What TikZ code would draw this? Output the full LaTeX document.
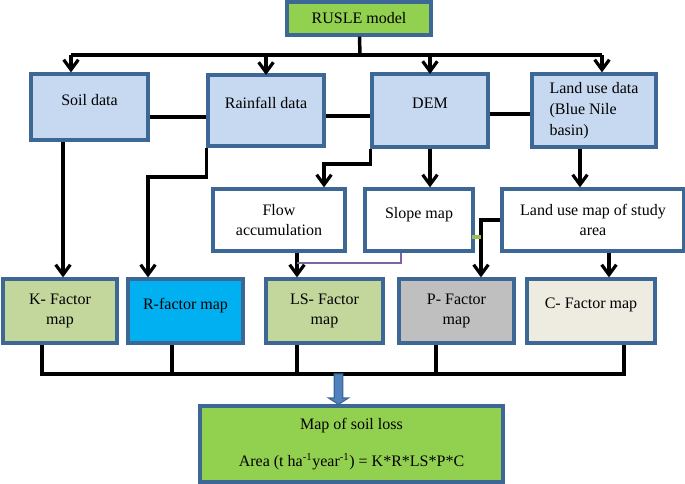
\documentclass[tikz,border=0pt]{standalone}
\usepackage{fontspec}
\setmainfont{Liberation Serif}
\usepackage{tikz}
\usetikzlibrary{arrows.meta}
\definecolor{boxline}{HTML}{3D6896}
\definecolor{rusle}{HTML}{92D050}
\definecolor{datab}{HTML}{C6D9F1}
\definecolor{olive}{HTML}{C3D69B}
\definecolor{rblue}{HTML}{00B0F0}
\definecolor{pgrey}{HTML}{BFBFBF}
\definecolor{cbeige}{HTML}{EEECE1}
\definecolor{purp}{HTML}{8064A2}
\definecolor{gdash}{HTML}{9BBB59}
\definecolor{bigarrow}{HTML}{4F81BD}
\tikzstyle{box} = [draw=boxline, line width=2.4pt, inner sep=2pt, align=center,
  font=\fontsize{12}{15.5}\selectfont]
\tikzstyle{up} = [text depth=11pt]
\tikzstyle{link} = [draw=black, line width=2.6pt]
\tikzstyle{arr} = [link, -{Straight Barb[length=7.5pt,width=11pt,line width=2.4pt]}]

\begin{document}
\begin{tikzpicture}[x=0.75pt,y=-0.75pt]
\useasboundingbox (0,0) rectangle (685,484);

% top row
\node[box, fill = rusle, minimum width=108pt, minimum height=24.75pt] (rusle) at (359,18.5) {RUSLE model};
\node[box, up, fill = datab, minimum width=87.75pt, minimum height=49.5pt] (soil) at (89.5,107) {Soil data};
\node[box, up, fill = datab, minimum width=87pt, minimum height=53.25pt] (rain) at (266,110.5) {Rainfall data};
\node[box, up, fill = datab, minimum width=87pt, minimum height=54.75pt] (dem) at (430,110.5) {DEM};
\node[box, fill = datab, align=left, minimum width=93pt, minimum height=54.75pt] (landuse) at (594,110.5) {Land use data\\(Blue Nile\\basin)};

% middle row
\node[box, fill = white, minimum width=99pt, minimum height=46.5pt] (flow) at (279,220) {Flow\\accumulation};
\node[box, up, fill = white, minimum width=81pt, minimum height=46.5pt] (slope) at (419,220) {Slope map};
\node[box, fill = white, minimum width=136.5pt, minimum height=46.5pt] (lumap) at (593,220) {Land use map of study\\area};

% factor maps
\node[box, fill = olive, minimum width=85.5pt, minimum height=48pt] (kf) at (60,311) {K- Factor\\map};
\node[box, up, fill = rblue, minimum width=86.25pt, minimum height=48pt] (rf) at (185.5,311) {R-factor map};
\node[box, fill = olive, minimum width=87.75pt, minimum height=48pt] (lsf) at (324.5,311) {LS- Factor\\map};
\node[box, fill = pgrey, minimum width=86.25pt, minimum height=48pt] (pf) at (456.5,311) {P- Factor\\map};
\node[box, up, fill = cbeige, minimum width=96pt, minimum height=48pt] (cf) at (591,311) {C- Factor map};

% result
\node[box, fill = rusle, minimum width=227.25pt, minimum height=57pt] (soilloss) at (351.5,444) {Map of soil loss\\[12pt]Area (t ha\textsuperscript{-1}year\textsuperscript{-1}) = K*R*LS*P*C};

% model to data
\coordinate (tb) at (360,55);
\coordinate (tb1) at (71,55);
\coordinate (tb4) at (602,55);
\draw[link] (rusle) -- (tb);
\draw[link] (tb1) -- (tb4);
\draw[arr] (tb1) -- (tb1 |- soil.north);
\draw[arr] (266,55) -- (266,75);
\draw[arr] (430,55) -- (430,74);
\draw[arr] (tb4) -- (tb4 |- landuse.north);
\draw[link] (soil.east |- 0,117) -- (rain.west |- 0,117);
\draw[link] (rain.east |- 0,116) -- (dem.west |- 0,116);
\draw[link] (dem.east |- 0,114) -- (landuse.west |- 0,114);

% data to maps
\draw[arr] (soil.south -| 63,0) -- (kf.north -| 63,0);
\draw[arr] (rain.south west) -- (rain.south west |- 0,177) -| (rf.north -| 148,0);
\draw[arr] (dem.south west) -- (dem.south west |- 0,164) -| (flow.north -| 324,0);
\draw[arr] (dem.south) -- (dem.south |- slope.north);
\draw[arr] (landuse.south -| 580,0) -- (lumap.north -| 580,0);
\draw[arr] (flow.south -| 297,0) -- (lsf.north -| 297,0);
\draw[draw=purp, line width=1.8pt] (slope.south -| 401,0) |- (297,263);
\draw[arr] (lumap.west) -| (pf.north -| 481,0);
\draw[draw=gdash, line width=2.4pt] (472,237) -- (481,237);
\draw[arr] (lumap.south -| 609,0) -- (cf.north -| 609,0);

% maps to result
\coordinate (bb) at (338.5,374);
\draw[link] (kf.south -| 42,0) -- (42,374) -- (624,374) -- (cf.south -| 624,0);
\draw[link] (rf.south -| 172,0) -- (172,374);
\draw[link] (lsf.south -| 297,0) -- (297,374);
\draw[link] (pf.south -| 436,0) -- (436,374);
\draw[draw=boxline, fill=bigarrow, line width=0.8pt]
  ([xshift=-3.2pt]bb) -- ([xshift=-3.2pt]bb |- 0,398) -- ([xshift=-7.5pt]bb |- 0,398)
  -- (bb |- soilloss.north) -- ([xshift=7.5pt]bb |- 0,398) -- ([xshift=3.2pt]bb |- 0,398)
  -- ([xshift=3.2pt]bb) -- cycle;
\end{tikzpicture}
\end{document}
